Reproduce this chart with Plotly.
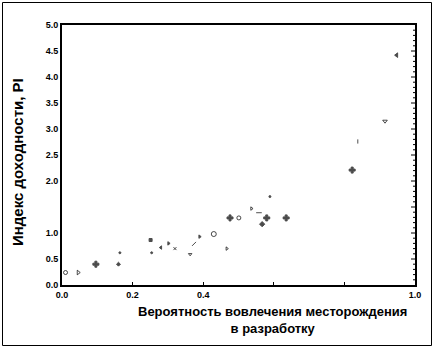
import plotly.graph_objects as go

# Data
prob = [0.01, 0.046, 0.096, 0.16, 0.164, 0.251, 0.254, 0.28, 0.302, 0.32, 0.363, 0.374,
        0.39, 0.43, 0.467, 0.476, 0.501, 0.537, 0.558, 0.567, 0.58, 0.589, 0.635,
        0.822, 0.838, 0.915, 0.948]
pi_index = [0.24, 0.24, 0.40, 0.40, 0.62, 0.865, 0.62, 0.72, 0.80, 0.70, 0.59, 0.79,
            0.93, 0.98, 0.70, 1.29, 1.29, 1.47, 1.39, 1.17, 1.29, 1.70, 1.29,
            2.21, 2.76, 3.15, 4.42]
symbols = ["circle-open", "triangle-right-open", "cross", "diamond", "circle", "square",
           "circle", "triangle-left", "triangle-right", "x-thin-open", "triangle-down-open",
           "line-ne-open", "triangle-right", "circle-open", "triangle-right-open", "cross",
           "circle-open", "triangle-right-open", "line-ew-open", "diamond", "cross", "circle",
           "cross", "cross", "line-ns-open", "triangle-down-open", "triangle-left"]
sizes = [4, 4, 5, 3, 2, 3, 2, 3, 3, 3, 3, 4, 3, 5, 3, 5, 4, 3, 4, 4, 5, 2, 5, 5, 3, 4, 4]

x_tickvals = [0.0, 0.2, 0.4, 0.6, 0.8, 1.0]
x_ticktext = ["0.0", "0.2", "0.4", "", "", "1.0"]
y_tickvals = [0.0, 0.5, 1.0, 1.5, 2.0, 2.5, 3.0, 3.5, 4.0, 4.5, 5.0]
y_ticktext = ["0.0", "0.5", "1.0", "", "2.0", "2.5", "3.0", "3.5", "4.0", "4.5", "5.0"]
y_minor = [i / 10 for i in range(1, 50) if i % 5 != 0]

x_title = "Вероятность вовлечения месторождения<br>в разработку"
y_title = "Индекс доходности, PI"

W, H = 434, 348
L, R, T, B = 62, 19, 25, 63
pw, ph = W - L - R, H - T - B

fig = go.Figure()
fig.add_trace(go.Scatter(
    x=prob, y=pi_index, mode="markers",
    marker=dict(symbol=symbols, size=sizes, color="black",
                line=dict(color="black", width=1)),
    showlegend=False, hoverinfo="x+y"))

tick_font = dict(family="Liberation Sans", size=9, color="black", weight="bold")

# right-hand axis ticks (inward), placed with the y scale
right_ticks = [dict(type="line", xref="paper", yref="y",
                    x0=1 - 4 / pw, x1=1, y0=v, y1=v,
                    line=dict(color="black", width=1)) for v in y_tickvals[1:-1]]
right_minor = [dict(type="line", xref="paper", yref="y",
                    x0=1 - 2 / pw, x1=1, y0=v, y1=v,
                    line=dict(color="black", width=1)) for v in y_minor]

fig.update_layout(
    width=W, height=H,
    margin=dict(l=L, r=R, t=T, b=B),
    paper_bgcolor="white", plot_bgcolor="white",
    xaxis=dict(range=[0, 1], tickvals=x_tickvals, ticktext=x_ticktext,
               ticks="inside", ticklen=3, tickcolor="black", tickwidth=1,
               showline=True, linecolor="black", linewidth=2, mirror=True,
               showgrid=False, zeroline=False, tickfont=tick_font),
    yaxis=dict(range=[0, 5], tickvals=y_tickvals, ticktext=y_ticktext,
               ticks="", showline=True, linecolor="black", linewidth=2, mirror=True,
               showgrid=False, zeroline=False, tickfont=tick_font),
    annotations=[
        dict(text=x_title, xref="paper", yref="paper",
             x=(272 - L) / pw, y=(285 - 320) / ph, xanchor="center", yanchor="middle",
             showarrow=False, align="center",
             font=dict(family="Liberation Sans", size=13, color="black", weight="bold")),
        dict(text=y_title, xref="paper", yref="paper", textangle=-90,
             x=(17 - L) / pw, y=(285 - 162) / ph, xanchor="center", yanchor="middle",
             showarrow=False,
             font=dict(family="Liberation Sans", size=15, color="black", weight="bold")),
    ],
    shapes=right_ticks + right_minor + [
        dict(type="rect", xref="paper", yref="paper",
             x0=(2.5 - L) / pw, x1=(431.5 - L) / pw,
             y0=(285 - 345.5) / ph, y1=(285 - 2.5) / ph,
             line=dict(color="black", width=1)),
    ],
)

fig.write_html("out.html", config={"displayModeBar": False},
               post_script="document.body.style.margin='0';document.body.style.overflow='hidden';")
